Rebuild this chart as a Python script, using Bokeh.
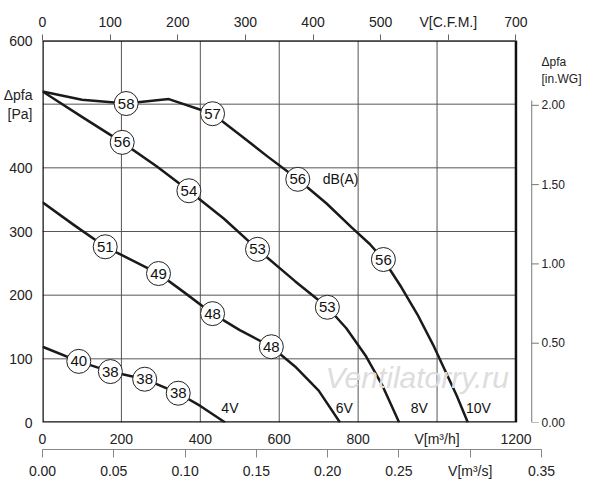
from bokeh.plotting import figure
from bokeh.models import Range1d, LinearAxis, FixedTicker, NumeralTickFormatter
from bokeh.core.properties import value
from bokeh.embed import file_html
from bokeh.resources import INLINE

c10_x = [0, 100, 212, 320, 431, 500, 570, 647, 720, 784, 830, 864, 910, 950, 990, 1020, 1050, 1078]
c10_y = [520, 507, 501, 508, 485, 452, 418, 382, 344, 306, 280, 256, 212, 170, 122, 82, 42, 0]
c8_x = [0, 100, 202, 290, 371, 460, 545, 640, 722, 770, 820, 860, 904]
c8_y = [520, 480, 440, 402, 364, 320, 272, 222, 181, 148, 104, 60, 0]
c6_x = [0, 80, 159, 230, 294, 360, 431, 500, 580, 640, 700, 754]
c6_y = [346, 310, 276, 254, 234, 204, 171, 145, 119, 88, 50, 0]
c4_x = [0, 92, 172, 259, 344, 400, 463]
c4_y = [119, 96, 80, 68, 46, 26, 0]

lab_x = [212, 431, 647, 864, 202, 371, 545, 722, 159, 294, 431, 580, 92, 172, 259, 344]
lab_y = [501, 485, 382, 256, 440, 364, 272, 181, 276, 234, 171, 119, 96, 80, 68, 46]
lab_t = ["58", "57", "56", "56", "56", "54", "53", "53", "51", "49", "48", "48", "40", "38", "38", "38"]

volt_t = ["4V", "6V", "8V", "10V"]
volt_x = [475, 765, 955, 1105]

wg_ticks = [0, 0.5, 1.0, 1.5, 2.0]
PA_PER_INWG = 249.09

FONT = "Liberation Sans"
XMAX = 1200 * 508 / 482
H = 484

p = figure(width=584, height=H, output_backend="svg", toolbar_location=None,
           x_range=Range1d(0, XMAX), y_range=Range1d(0, 600),
           min_border_left=37, min_border_right=30, min_border_top=40, min_border_bottom=62)
p.outline_line_color = None
p.grid.visible = False

for ax in (p.xaxis[0], p.yaxis[0]):
    ax.major_label_text_font = FONT
    ax.major_label_text_font_size = "14px"
    ax.major_label_text_color = "#222222"
    ax.axis_line_color = None
    ax.major_tick_line_color = None
    ax.minor_tick_line_color = None
p.xaxis[0].ticker = FixedTicker(ticks=[0, 200, 400, 600, 800, 1000, 1200])
p.xaxis[0].major_label_overrides = {1000: "V[m³/h]"}
p.xaxis[0].major_label_standoff = 2
p.yaxis[0].ticker = FixedTicker(ticks=[0, 100, 200, 300, 400, 500, 600])
p.yaxis[0].major_label_overrides = {500: "Δpfa\n[Pa]"}
p.yaxis[0].major_label_standoff = 4

gx = [200, 400, 600, 800, 1000]
p.segment(x0=gx, y0=[0]*5, x1=gx, y1=[600]*5, line_color="#555555", line_width=1)
gy = [100, 200, 300, 400, 500]
p.segment(x0=[0]*5, y0=gy, x1=[1200]*5, y1=gy, line_color="#555555", line_width=1)
p.quad(left=[0], right=[1200], bottom=[0], top=[600], fill_color=None,
       line_color="#111111", line_width=2.5)

def extra_axis(name, start, end, ticks, loc, fmt=None, overrides=None, bounds=None, dim="x"):
    if dim == "x":
        p.extra_x_ranges[name] = Range1d(start, end)
        ax = LinearAxis(x_range_name=name)
    else:
        p.extra_y_ranges[name] = Range1d(start, end)
        ax = LinearAxis(y_range_name=name)
    ax.ticker = FixedTicker(ticks=ticks)
    ax.minor_tick_line_color = None
    ax.axis_line_color = "#666666"
    ax.major_tick_line_color = "#666666"
    ax.major_tick_in = 0
    ax.major_tick_out = 6
    ax.major_label_text_font = FONT
    ax.major_label_text_font_size = "14px"
    ax.major_label_text_color = "#222222"
    if fmt:
        ax.formatter = NumeralTickFormatter(format=fmt)
    if overrides:
        ax.major_label_overrides = overrides
    if bounds:
        ax.bounds = bounds
    p.add_layout(ax, loc)
    return ax

top = extra_axis("cfm", 0, 700 * 508 / 482, [0, 100, 200, 300, 400, 500, 600, 700], "above",
                 overrides={600: "V[C.F.M.]"}, bounds=(0, 700))
ms = extra_axis("ms", 0, 0.35, [0, 0.05, 0.1, 0.15, 0.2, 0.25, 0.3, 0.35], "below", fmt="0.00",
                overrides={0.3: "V[m³/s]"}, bounds=(0, 0.35))
ms.major_tick_line_color = "#888888"
ms.axis_line_color = "#888888"
ms.major_tick_out = 8
right = extra_axis("wg", 0, 600 / PA_PER_INWG, wg_ticks + [2.22], "right", fmt="0.00", dim="y",
                   overrides={2.22: "Δpfa\n[in.WG]"})
right.axis_line_color = None
right.major_tick_line_color = None
right.major_tick_in = 0
right.major_tick_out = 0
right.major_label_standoff = 0
right.major_label_text_font_size = "12px"

wg_pa = [t * PA_PER_INWG for t in wg_ticks]
p.segment(x0=[1240], y0=[0], x1=[1240], y1=[2.03 * PA_PER_INWG], line_color="#777777", line_width=1)
p.segment(x0=[1240]*5, y0=wg_pa, x1=[1258]*5, y1=wg_pa, line_color="#777777", line_width=1)

for xs, ys in ((c10_x, c10_y), (c8_x, c8_y), (c6_x, c6_y), (c4_x, c4_y)):
    p.line(xs, ys, line_color="#1a1a1a", line_width=2.5, line_join="round")

p.text(x=[950], y=[70], text=["Ventilatorry.ru"], text_align="center", text_baseline="middle",
       text_font=value(FONT), text_font_size="30px", text_font_style="italic",
       text_color="#dddddd")

p.scatter(lab_x, lab_y, size=24, fill_color="white", line_color="#222222", line_width=1)
p.text(x=lab_x, y=lab_y, text=lab_t, text_align="center", text_baseline="middle",
       text_font=value(FONT), text_font_size="15px", text_color="#111111")
p.text(x=[710], y=[382], text=["dB(A)"], text_align="left", text_baseline="middle",
       text_font=value(FONT), text_font_size="14px", text_color="#111111")
p.text(x=volt_x, y=[22]*4, text=volt_t, text_align="center", text_baseline="middle",
       text_font=value(FONT), text_font_size="14px", text_color="#111111")

open("out.html", "w").write(file_html(p, INLINE))
